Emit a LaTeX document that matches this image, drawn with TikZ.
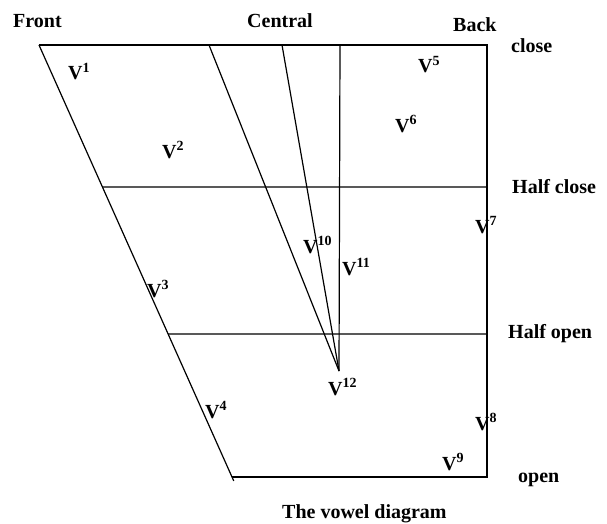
\documentclass[tikz,border=0pt]{standalone}
\usepackage{fontspec}
\setmainfont{Liberation Serif}
\usetikzlibrary{calc}
\tikzset{
  chart/.style={line width=1.2pt, black},
  lbl/.style={inner sep=0pt, anchor=base west, font=\fontsize{20}{24}\selectfont\bfseries},
  vow/.style={inner sep=0pt, anchor=base west, font=\fontsize{20}{24}\selectfont\bfseries}
}
\newcommand{\vw}[1]{V\textsuperscript{#1}}
\begin{document}
\begin{tikzpicture}[x=1pt,y=-1pt]
\useasboundingbox (0,0) rectangle (607,524);
% frame corners
\coordinate (TL) at (39,45);
\coordinate (TR) at (487,45);
\coordinate (BR) at (487,477);
\coordinate (BL) at (232,477);
\coordinate (HCL) at ($(TL)!0.3287!(BL)$);
\coordinate (HCR) at (487,187);
\coordinate (HOL) at ($(TL)!0.669!(BL)$);
\coordinate (HOR) at (487,334);
\coordinate (C1) at (209,45);
\coordinate (C2) at (282,45);
\coordinate (C3) at (340,45);
\coordinate (AP) at (339,371);
\coordinate (BLx) at ($(TL)!1.009!(BL)$);
% lines
\draw[chart] (TL) -- (TR) -- (BR) -- (BL);
\draw[chart] (TL) -- (BLx);
\draw[chart] (HCL) -- (HCR);
\draw[chart] (HOL) -- (HOR);
\draw[chart] (C1) -- (AP);
\draw[chart] (C2) -- (AP);
\draw[chart] (C3) -- (AP);
% labels
\node[lbl] (front) at (13,28) {Front};
\node[lbl] (central) at (247,28) {Central};
\node[lbl] (back) at (453,32) {Back};
\node[lbl] (close) at (511,53) {close};
\node[lbl] (hclose) at (512,193) {Half close};
\node[lbl] (hopen) at (508,338) {Half open};
\node[lbl] (open) at (518,482) {open};
\node[lbl] (title) at (282,518) {The vowel diagram};
% vowels
\node[vow] (v1) at (68,80) {\vw{1}};
\node[vow] (v2) at (162,158) {\vw{2}};
\node[vow] (v3) at (147,297) {\vw{3}};
\node[vow] (v4) at (205,418) {\vw{4}};
\node[vow] (v5) at (418,73) {\vw{5}};
\node[vow] (v6) at (395,132) {\vw{6}};
\node[vow] (v7) at (475,233) {\vw{7}};
\node[vow] (v8) at (475,430) {\vw{8}};
\node[vow] (v9) at (442,470) {\vw{9}};
\node[vow] (v10) at (303,253) {\vw{10}};
\node[vow] (v11) at (342,275) {\vw{11}};
\node[vow] (v12) at (328,395) {\vw{12}};
\end{tikzpicture}
\end{document}
